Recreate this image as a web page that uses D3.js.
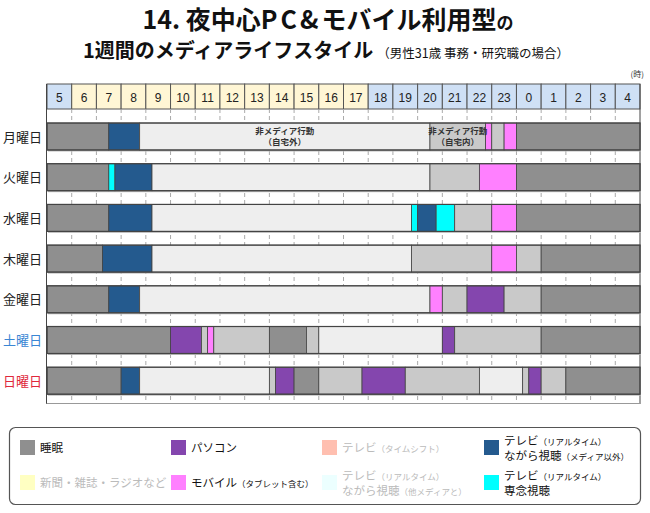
<!DOCTYPE html>
<html><head><meta charset="utf-8">
<script src="https://cdn.jsdelivr.net/npm/d3@7"></script>
<style>body{margin:0;background:#fff;}svg{display:block;font-family:"Noto Sans CJK JP","Noto Sans",sans-serif;}</style>
</head><body>
<svg id="c" width="650" height="513"></svg>
<script>
const hours = [5,6,7,8,9,10,11,12,13,14,15,16,17,18,19,20,21,22,23,0,1,2,3,4];
const days = ["月曜日","火曜日","水曜日","木曜日","金曜日","土曜日","日曜日"];
const dayColors = ["#222","#222","#222","#222","#222","#3a86d4","#e0283c"];
const catKeys = ["sleep","pc","tvshift","tvmedia","paper","mobile","tvother","tvfocus","outside","home"];
const catColors = {sleep:"#8f8f8f",pc:"#8446ae",tvshift:"#ffbfb0",tvmedia:"#245a8e",paper:"#ffffc2",mobile:"#ff80ff",tvother:"#ecffff",tvfocus:"#00ffff",outside:"#eeeeee",home:"#c9c9c9"};
// segments per day: [start hour (5..29), end hour, category]
const monday = [[5,7.5,"sleep"],[7.5,8.75,"tvmedia"],[8.75,20.5,"outside"],[20.5,22.75,"home"],[22.75,23,"mobile"],[23,23.5,"home"],[23.5,24,"mobile"],[24,29,"sleep"]];
const tuesday = [[5,7.5,"sleep"],[7.5,7.75,"tvfocus"],[7.75,9.25,"tvmedia"],[9.25,20.5,"outside"],[20.5,22.5,"home"],[22.5,24,"mobile"],[24,29,"sleep"]];
const wednesday = [[5,7.5,"sleep"],[7.5,9.25,"tvmedia"],[9.25,19.75,"outside"],[19.75,20,"tvfocus"],[20,20.75,"tvmedia"],[20.75,21.5,"tvfocus"],[21.5,23,"home"],[23,24,"mobile"],[24,29,"sleep"]];
const thursday = [[5,7.25,"sleep"],[7.25,9.25,"tvmedia"],[9.25,19.75,"outside"],[19.75,23,"home"],[23,24,"mobile"],[24,25,"home"],[25,29,"sleep"]];
const friday = [[5,7.5,"sleep"],[7.5,8.75,"tvmedia"],[8.75,20.5,"outside"],[20.5,21,"mobile"],[21,22,"home"],[22,23.5,"pc"],[23.5,25,"home"],[25,29,"sleep"]];
const saturday = [[5,10,"sleep"],[10,11.25,"pc"],[11.25,11.5,"home"],[11.5,11.75,"mobile"],[11.75,14,"home"],[14,15.5,"sleep"],[15.5,16,"home"],[16,21,"outside"],[21,21.5,"pc"],[21.5,25,"home"],[25,29,"sleep"]];
const sunday = [[5,8,"sleep"],[8,8.75,"tvmedia"],[8.75,14,"outside"],[14,14.25,"home"],[14.25,15,"pc"],[15,16,"sleep"],[16,17.75,"home"],[17.75,19.5,"pc"],[19.5,22.5,"home"],[22.5,24.25,"outside"],[24.25,24.5,"home"],[24.5,25,"pc"],[25,26,"home"],[26,29,"sleep"]];
const schedule = [monday,tuesday,wednesday,thursday,friday,saturday,sunday];
const annotations = [[0,8.75,20.5,"非メディア行動","（自宅外）"],[0,20.5,22.75,"非メディア行動","（自宅内）"]];
const legendItems = [
 ["sleep",["睡眠"],false],["pc",["パソコン"],false],["tvshift",["テレビ(タイムシフト)"],true],["tvmedia",["テレビ(リアルタイム)","ながら視聴(メディア以外)"],false],
 ["paper",["新聞・雑誌・ラジオなど"],true],["mobile",["モバイル(タブレット含む)"],false],["tvother",["テレビ(リアルタイム)","ながら視聴(他メディアと)"],true],["tvfocus",["テレビ(リアルタイム)","専念視聴"],false]
];

const svg = d3.select("#c");
const x = d3.scaleLinear().domain([5,29]).range([47,640]);
const y = d3.scaleBand().domain(days).range([110.8,406.4]).paddingInner(0.337).paddingOuter(0.3);

// title
const t1 = svg.append("text").attr("x",328).attr("y",29).attr("text-anchor","middle").attr("font-weight","bold").attr("fill","#111");
t1.append("tspan").attr("font-size",25).text("14. 夜中心");
t1.append("tspan").attr("font-size",25).attr("letter-spacing",3).text("PC&");
t1.append("tspan").attr("font-size",25).text("モバイル利用型");
t1.append("tspan").attr("font-size",17).text("の");
const t2 = svg.append("text").attr("x",326).attr("y",58).attr("text-anchor","middle").attr("fill","#111");
t2.append("tspan").attr("font-size",20).attr("font-weight","bold").text("1週間のメディアライフスタイル");
t2.append("tspan").attr("font-size",12.5).attr("dx",4).text("（男性31歳 事務・研究職の場合）");
svg.append("text").attr("x",644).attr("y",77).attr("text-anchor","end").attr("font-size",8).attr("fill","#333").text("(時)");

// header
const hdr = svg.append("g");
hours.forEach((h,i)=>{
  const hx = 5+i;
  hdr.append("rect").attr("x",x(hx)).attr("y",84).attr("width",x(hx+1)-x(hx)).attr("height",25)
    .attr("fill",(h>=6&&h<=17)?"#fff6d5":"#cfe0f5").attr("stroke","#555").attr("stroke-width",1);
  hdr.append("text").attr("x",(x(hx)+x(hx+1))/2).attr("y",102).attr("text-anchor","middle").attr("font-size",12).attr("fill","#222").attr("font-family","Liberation Sans, Arial, sans-serif").text(h);
});

// gridlines
const grid = svg.append("g");
for(let h=6;h<29;h++){
  grid.append("line").attr("x1",x(h)).attr("x2",x(h)).attr("y1",109).attr("y2",403).attr("stroke","#aaa").attr("stroke-dasharray","4,3").attr("stroke-width",1);
}
// frame
svg.append("line").attr("x1",46.5).attr("x2",46.5).attr("y1",84).attr("y2",404).attr("stroke","#444");
svg.append("line").attr("x1",640).attr("x2",640).attr("y1",84).attr("y2",404).attr("stroke","#444");
svg.append("line").attr("x1",46.5).attr("x2",640).attr("y1",403.5).attr("y2",403.5).attr("stroke","#999");

// bars
days.forEach((d,i)=>{
  const g = svg.append("g");
  const by = y(d), bh = y.bandwidth();
  g.append("rect").attr("x",x(5)+1).attr("y",by+1.5).attr("width",x(29)-x(5)).attr("height",bh).attr("fill","#bbb");
  g.selectAll("rect.seg").data(schedule[i]).join("rect").attr("class","seg")
    .attr("x",s=>x(s[0])).attr("y",by).attr("width",s=>x(s[1])-x(s[0])).attr("height",bh)
    .attr("fill",s=>catColors[s[2]]).attr("stroke","#444").attr("stroke-width",0.8);
  g.append("rect").attr("x",x(5)).attr("y",by).attr("width",x(29)-x(5)).attr("height",bh).attr("fill","none").attr("stroke","#444").attr("stroke-width",1.2);
  svg.append("text").attr("x",42).attr("y",by+bh/2+5).attr("text-anchor","end").attr("font-size",13).attr("fill",dayColors[i]).text(d);
});
annotations.forEach(a=>{
  const by = y(days[a[0]]), cx=(x(a[1])+x(a[2]))/2;
  svg.append("text").attr("x",cx).attr("y",by+11).attr("text-anchor","middle").attr("font-size",8.5).attr("font-weight","bold").attr("fill","#333").text(a[3]);
  svg.append("text").attr("x",cx).attr("y",by+22).attr("text-anchor","middle").attr("font-size",8.5).attr("font-weight","bold").attr("fill","#333").text(a[4]);
});

// legend
svg.append("rect").attr("x",9.5).attr("y",427.5).attr("width",631).attr("height",77).attr("rx",6).attr("fill","#fff").attr("stroke","#555").attr("stroke-width",1.2);
const colX = [20,171,322,484], rowY=[447,482];
function addLine(cx, yy, line, col){
  const m = line.match(/^(.*?)(\(.*\))?$/);
  const tt = svg.append("text").attr("x",cx).attr("y",yy).attr("font-size",11.5).attr("fill",col);
  tt.append("tspan").text(m[1]);
  if(m[2]) tt.append("tspan").attr("font-size",8.5).text(m[2].replace("(","（").replace(")","）"));
}
legendItems.forEach((it,i)=>{
  const cx = colX[i%4], cy = rowY[Math.floor(i/4)];
  svg.append("rect").attr("x",cx).attr("y",cy-7).attr("width",15).attr("height",15).attr("fill",catColors[it[0]]);
  const col = it[2]?"#bbb":"#111";
  if(it[1].length===1){
    addLine(cx+20, cy+5, it[1][0], col);
  } else {
    it[1].forEach((line,j)=>addLine(cx+20, cy-2+j*14.5, line, col));
  }
});
</script>
</body></html>
